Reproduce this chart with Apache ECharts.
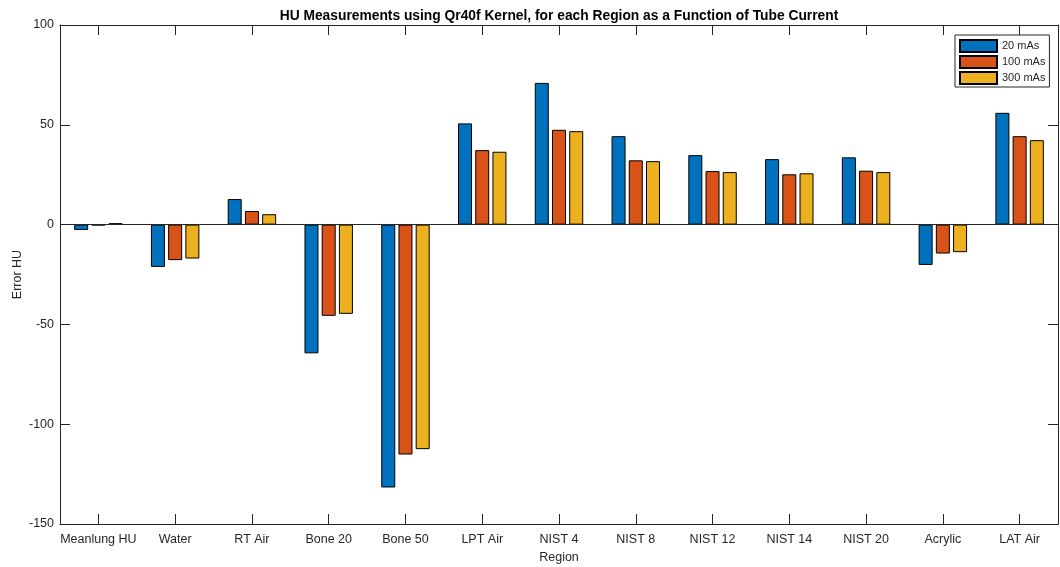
<!DOCTYPE html>
<html>
<head>
<meta charset="utf-8">
<script src="https://cdn.jsdelivr.net/npm/echarts@6/dist/echarts.min.js"></script>
<style>
  html, body { margin: 0; padding: 0; background: #fff; }
  #chart { width: 1060px; height: 567px; }
</style>
</head>
<body>
<div id="chart"></div>
<script>
// Regions measured in the phantom
const regions = ['Meanlung HU', 'Water', 'RT Air', 'Bone 20', 'Bone 50', 'LPT Air',
  'NIST 4', 'NIST 8', 'NIST 12', 'NIST 14', 'NIST 20', 'Acrylic', 'LAT Air'];

// HU error per region at each tube current
const err20mAs  = [-2.7, -21.2, 12.8, -64.5, -131.7, 50.7, 71.0, 44.3, 34.8, 32.8, 33.7, -20.2, 56.0];
const err100mAs = [-0.4, -17.8,  6.8, -45.7, -115.2, 37.3, 47.5, 32.2, 26.8, 25.2, 27.0, -14.5, 44.3];
const err300mAs = [ 0.7, -17.0,  5.2, -44.7, -112.5, 36.5, 46.8, 31.8, 26.3, 25.7, 26.3, -13.8, 42.3];

const seriesNames = ['20 mAs', '100 mAs', '300 mAs'];
const yTicks = { min: -150, max: 100, step: 50 };

const colors = ['#0072BD', '#D95319', '#EDB120'];
const ink = '#262626';
const font = 'Liberation Sans, Arial, Helvetica, sans-serif';

const chart = echarts.init(document.getElementById('chart'), null, { renderer: 'canvas' });

const dataSets = [err20mAs, err100mAs, err300mAs];
const series = dataSets.map((d, i) => ({
  name: seriesNames[i],
  type: 'bar',
  data: d,
  barWidth: 14,
  barGap: '23%',
  itemStyle: { color: colors[i], borderColor: '#000', borderWidth: 1 },
  emphasis: { disabled: true },
  animation: false
}));
// zero reference line
series[0].markLine = {
  silent: true,
  symbol: 'none',
  label: { show: false },
  lineStyle: { color: ink, width: 1, type: 'solid' },
  data: [{ yAxis: 0 }],
  animation: false
};

const catTick = { show: true, inside: true, length: 10, alignWithLabel: true, interval: 0, lineStyle: { color: ink, width: 1 } };
const valTick = { show: true, inside: true, length: 10, lineStyle: { color: ink, width: 1 } };

chart.setOption({
  animation: false,
  backgroundColor: '#fff',
  title: {
    text: 'HU Measurements using Qr40f Kernel, for each Region as a Function of Tube Current',
    left: 554, top: 4, textAlign: 'center',
    textStyle: { fontFamily: font, fontSize: 13.8, fontWeight: 'bold', color: '#000' }
  },
  legend: {
    data: seriesNames,
    orient: 'vertical',
    left: 955, top: 35,
    icon: 'rect',
    itemWidth: 37, itemHeight: 12, itemGap: 2, itemTextGap: 4,
    padding: [4, 4, 2, 4],
    borderColor: ink, borderWidth: 1, backgroundColor: '#fff',
    textStyle: { fontFamily: font, fontSize: 11, color: ink }
  },
  grid: { left: 60, right: 2, top: 25, bottom: 43, containLabel: false, outerBoundsMode: 'none' },
  xAxis: [
    {
      type: 'category', data: regions, position: 'bottom', boundaryGap: true,
      name: 'Region', nameLocation: 'middle', nameGap: 27, nameMoveOverlap: false,
      nameTextStyle: { fontFamily: font, fontSize: 12.5, color: ink },
      axisLine: { show: true, onZero: false, lineStyle: { color: ink, width: 1 } },
      axisTick: catTick,
      axisLabel: { fontFamily: font, fontSize: 12.5, color: ink, margin: 9, interval: 0 },
      splitLine: { show: false }
    },
    {
      type: 'category', data: regions, position: 'top', boundaryGap: true,
      axisLine: { show: true, onZero: false, lineStyle: { color: ink, width: 1 } },
      axisTick: catTick,
      axisLabel: { show: false },
      splitLine: { show: false }
    }
  ],
  yAxis: [
    {
      type: 'value', min: yTicks.min, max: yTicks.max, interval: yTicks.step, position: 'left',
      name: 'Error HU', nameLocation: 'middle', nameGap: 36, nameRotate: 90, nameMoveOverlap: false,
      nameTextStyle: { fontFamily: font, fontSize: 12.5, color: ink },
      axisLine: { show: true, lineStyle: { color: ink, width: 1 } },
      axisTick: valTick,
      axisLabel: { fontFamily: font, fontSize: 12.5, color: ink, margin: 6 },
      splitLine: { show: false }
    },
    {
      type: 'value', min: yTicks.min, max: yTicks.max, interval: yTicks.step, position: 'right',
      axisLine: { show: true, lineStyle: { color: ink, width: 1 } },
      axisTick: valTick,
      axisLabel: { show: false },
      splitLine: { show: false }
    }
  ],
  series: series
});
</script>
</body>
</html>
